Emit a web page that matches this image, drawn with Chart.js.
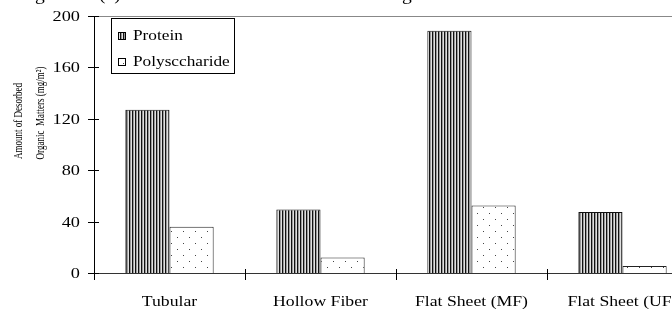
<!DOCTYPE html>
<html lang="en">
<head>
<meta charset="UTF-8">
<title>Desorbed Organic Matters</title>
<script src="https://cdn.jsdelivr.net/npm/chart.js"></script>
<style>
  html, body { margin: 0; padding: 0; background: #fff; overflow: hidden; }
  #wrap { position: absolute; left: 0; top: 0; width: 704px; height: 309px; }
</style>
</head>
<body>
<div id="wrap"><canvas id="myChart"></canvas></div>
<script>
const categories = ['Tubular', 'Hollow Fiber', 'Flat Sheet (MF)', 'Flat Sheet (UF)'];
const proteinValues = [127, 49.5, 188.5, 47.5];
const polyValues = [36, 12, 52.5, 5.5];
const yTicks = [0, 40, 80, 120, 160, 200];
const seriesNames = ['Protein', 'Polysccharide'];
const yTitle = ['Amount of Desorbed', 'Organic  Matters (mg/m\u00B2)'];
const caption = 'Figure 4.1(a) Amount of desorbed matters in the gel';

const serif = '"Liberation Serif", "Times New Roman", serif';
const SX = 1.22; // the original figure is a bit stretched sideways

function stretchText(ctx, txt, x, y, align, sx) {
    ctx.save();
    ctx.translate(x, y);
    ctx.scale(sx, 1);
    ctx.textAlign = align;
    ctx.fillText(txt, 0, 0);
    ctx.restore();
}

// vertical stripes for protein
function stripePattern() {
    const c = document.createElement('canvas');
    c.width = 3; c.height = 4;
    const g = c.getContext('2d');
    g.fillStyle = '#111'; g.fillRect(0, 0, 1, 4);
    g.fillStyle = '#9a9a9a'; g.fillRect(1, 0, 1, 4);
    g.fillStyle = '#e0e0e0'; g.fillRect(2, 0, 1, 4);
    return g.createPattern(c, 'repeat');
}

// sparse dots for polysaccharide
function dotPattern() {
    const c = document.createElement('canvas');
    c.width = 12; c.height = 12;
    const g = c.getContext('2d');
    g.fillStyle = '#fff'; g.fillRect(0, 0, 12, 12);
    g.fillStyle = '#444';
    g.fillRect(3, 3, 1, 1);
    g.fillRect(9, 9, 1, 1);
    return g.createPattern(c, 'repeat');
}

const protFill = stripePattern();
const polyFill = dotPattern();

const decor = {
    id: 'decor',
    afterDraw(chart) {
        const ctx = chart.ctx;
        const a = chart.chartArea;
        const xs = chart.scales.x;
        const ys = chart.scales.y;
        ctx.save();
        ctx.fillStyle = '#000';
        ctx.textBaseline = 'alphabetic';

        // caption cut off at the top
        ctx.font = '16px ' + serif;
        const capX = 35 - ctx.measureText('Fi').width * SX;
        stretchText(ctx, caption, capX, 0, 'left', SX);

        // top frame line
        ctx.strokeStyle = '#888';
        ctx.lineWidth = 1;
        ctx.beginPath();
        ctx.moveTo(a.left, a.top + 0.5);
        ctx.lineTo(a.right, a.top + 0.5);
        ctx.stroke();

        // y ticks crossing the axis + labels
        ctx.strokeStyle = '#000';
        ctx.beginPath();
        yTicks.forEach(v => {
            const y = Math.round(ys.getPixelForValue(v)) + 0.5;
            ctx.moveTo(a.left - 6, y);
            ctx.lineTo(a.left + 5, y);
        });
        ctx.stroke();
        ctx.font = '15px ' + serif;
        ctx.textBaseline = 'middle';
        yTicks.forEach(v => {
            stretchText(ctx, String(v), 80, ys.getPixelForValue(v) + 1, 'right', SX);
        });

        // x ticks at category boundaries + labels
        const step = xs.getPixelForValue(1) - xs.getPixelForValue(0);
        ctx.beginPath();
        for (let i = 0; i <= categories.length; i++) {
            const x = Math.round(xs.getPixelForValue(0) - step / 2 + i * step) + 0.5;
            ctx.moveTo(x, a.bottom - 4);
            ctx.lineTo(x, a.bottom + 7);
        }
        ctx.stroke();
        ctx.font = '14.5px ' + serif;
        ctx.textBaseline = 'alphabetic';
        categories.forEach((c, i) => {
            stretchText(ctx, c, xs.getPixelForValue(i), a.bottom + 33, 'center', SX);
        });

        // y axis title (two lines)
        ctx.font = '9px ' + serif;
        ctx.textAlign = 'center';
        ctx.textBaseline = 'middle';
        [[19, 121], [41, 113]].forEach((p, i) => {
            ctx.save();
            ctx.translate(p[0], p[1]);
            ctx.scale(1.3, 1);
            ctx.rotate(-Math.PI / 2);
            ctx.fillText(yTitle[i], 0, 0);
            ctx.restore();
        });

        // legend box
        const lx = 111, ly = 18, lw = 123, lh = 55;
        ctx.fillStyle = '#fff';
        ctx.fillRect(lx, ly, lw, lh);
        ctx.strokeStyle = '#000';
        ctx.strokeRect(lx + 0.5, ly + 0.5, lw, lh);
        const fills = [protFill, polyFill];
        ctx.font = '15px ' + serif;
        ctx.textBaseline = 'alphabetic';
        seriesNames.forEach((name, i) => {
            const base = 40 + i * 26;
            ctx.fillStyle = fills[i];
            ctx.fillRect(118, base - 8, 8, 8);
            ctx.strokeStyle = '#000';
            ctx.strokeRect(118.5, base - 7.5, 7, 7);
            ctx.fillStyle = '#000';
            stretchText(ctx, name, 133, base, 'left', 1.15);
        });

        ctx.restore();
    }
};

const ctx = document.getElementById('myChart').getContext('2d');
new Chart(ctx, {
    type: 'bar',
    data: {
        labels: categories,
        datasets: [
            {
                label: seriesNames[0],
                data: proteinValues,
                backgroundColor: protFill,
                borderColor: '#111',
                borderWidth: 1,
                barPercentage: 1,
                categoryPercentage: 0.585
            },
            {
                label: seriesNames[1],
                data: polyValues,
                backgroundColor: polyFill,
                borderColor: '#222',
                borderWidth: 1,
                barPercentage: 1,
                categoryPercentage: 0.585
            }
        ]
    },
    options: {
        responsive: true,
        maintainAspectRatio: false,
        animation: false,
        layout: { padding: { top: 16, right: 6, left: 0, bottom: 0 } },
        plugins: {
            legend: { display: false },
            tooltip: { enabled: false }
        },
        scales: {
            x: {
                grid: { display: false, drawTicks: false },
                border: { display: true, color: '#333', width: 1 },
                ticks: { display: false },
                afterFit: s => { s.height = 36; s.paddingLeft = 0; s.paddingRight = 0; }
            },
            y: {
                min: 0,
                max: 200,
                grid: { display: false, drawTicks: false },
                border: { display: true, color: '#000', width: 1 },
                ticks: { display: false, stepSize: 40 },
                afterFit: s => { s.width = 94; s.paddingTop = 0; s.paddingBottom = 0; }
            }
        }
    },
    plugins: [decor]
});
</script>
</body>
</html>
